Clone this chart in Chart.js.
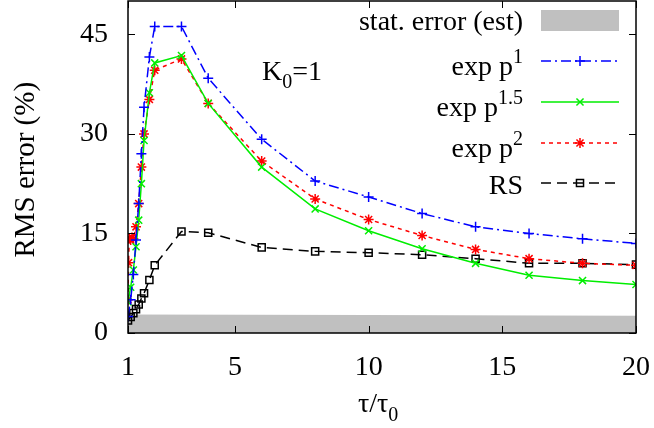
<!DOCTYPE html>
<html>
<head>
<meta charset="utf-8">
<script src="https://cdn.jsdelivr.net/npm/chart.js@4.4.1/dist/chart.umd.min.js"></script>
<style>
  html, body { margin: 0; padding: 0; background: #fff; }
  #wrap { width: 654px; height: 428px; position: relative; }
</style>
</head>
<body>
<div id="wrap"><canvas id="myChart"></canvas></div>
<script>
// tau / tau0 sample points
const tau = [1, 1.1, 1.2, 1.3, 1.4, 1.5, 1.6, 1.8, 2, 3, 4, 6, 8, 10, 12, 14, 16, 18, 20]
const expP1 = [2.5, 5.0, 8.8, 14.0, 19.5, 27.0, 34.0, 41.6, 46.2, 46.2, 38.4, 29.2, 22.9, 20.5, 18.0, 16.0, 15.0, 14.2, 13.5]
const expP15 = [4.7, 6.9, 9.5, 13.0, 17.0, 22.5, 29.0, 36.2, 40.7, 41.8, 34.6, 25.0, 18.7, 15.4, 12.7, 10.5, 8.7, 7.9, 7.3]
const rs = [1.9, 2.4, 3.0, 3.6, 4.3, 5.2, 6.0, 8.0, 10.2, 15.3, 15.1, 12.9, 12.3, 12.1, 11.8, 11.2, 10.5, 10.5, 10.3]
// exp p^2 has a few extra points right at tau0
const tauP2 = [1, 1.02, 1.05, 1.1, 1.15, 1.2, 1.3, 1.4, 1.5, 1.6, 1.8, 2, 3, 4, 6, 8, 10, 12, 14, 16, 18, 20]
const expP2 = [5.0, 10.6, 14.3, 14.0, 14.4, 14.2, 16.0, 19.5, 25.0, 30.0, 35.2, 39.6, 41.3, 34.6, 25.9, 20.2, 17.1, 14.7, 12.6, 11.2, 10.5, 10.2]
// estimated statistical error band
const statTau = [1, 10, 20]
const statErr = [2.8, 2.7, 2.6]

const xTicks = [1, 5, 10, 15, 20]
const yTicks = [0, 15, 30, 45]

const FONT = "'Liberation Serif', 'Times New Roman', serif"
Chart.defaults.font.family = FONT
Chart.defaults.font.size = 28
Chart.defaults.color = '#000'

function pts(xs, ys) {
    return xs.map((v, i) => ({ x: v, y: ys[i] }))
}

function series(label, xs, ys, color, dash, style, radius, order) {
    return {
        label: label,
        data: pts(xs, ys),
        showLine: true,
        borderColor: color,
        borderWidth: 1.5,
        borderDash: dash,
        pointStyle: style,
        pointRadius: radius,
        pointBorderColor: color,
        pointBackgroundColor: 'rgba(0,0,0,0)',
        pointBorderWidth: 1.5,
        fill: false,
        order: order
    }
}

// same markers for the key
function marker(ctx, style, x, y, r, color) {
    ctx.save()
    ctx.strokeStyle = color
    ctx.lineWidth = 1.5
    ctx.setLineDash([])
    ctx.beginPath()
    if (style === 'cross' || style === 'star') {
        ctx.moveTo(x - r, y); ctx.lineTo(x + r, y)
        ctx.moveTo(x, y - r); ctx.lineTo(x, y + r)
    }
    if (style === 'crossRot' || style === 'star') {
        const d = r * Math.SQRT1_2
        ctx.moveTo(x - d, y - d); ctx.lineTo(x + d, y + d)
        ctx.moveTo(x - d, y + d); ctx.lineTo(x + d, y - d)
    }
    if (style === 'rect') {
        const s = r * Math.SQRT1_2
        ctx.rect(x - s, y - s, 2 * s, 2 * s)
    }
    ctx.stroke()
    ctx.restore()
}

function supText(ctx, base, sup, right, y, rise) {
    ctx.font = '28px ' + FONT
    const w1 = ctx.measureText(base).width
    ctx.font = '20px ' + FONT
    const w2 = ctx.measureText(sup).width
    ctx.font = '28px ' + FONT
    ctx.textAlign = 'left'
    ctx.fillText(base, right - w2 - w1, y)
    ctx.font = '20px ' + FONT
    ctx.fillText(sup, right - w2, y - rise)
}

const frame = {
    id: 'frame',
    afterDraw(chart) {
        const { ctx, chartArea: a, scales: { x, y } } = chart
        const top = 1   // gnuplot border sits at the very top
        ctx.save()
        ctx.strokeStyle = '#000'
        ctx.fillStyle = '#000'
        ctx.lineWidth = 1
        ctx.beginPath()
        xTicks.forEach(v => {
            const px = Math.round(x.getPixelForValue(v)) + 0.5
            ctx.moveTo(px, a.bottom); ctx.lineTo(px, a.bottom - 7)
            ctx.moveTo(px, top); ctx.lineTo(px, top + 7)
        })
        yTicks.forEach(v => {
            const py = Math.round(y.getPixelForValue(v)) + 0.5
            ctx.moveTo(a.left, py); ctx.lineTo(a.left + 7, py)
            ctx.moveTo(a.right, py); ctx.lineTo(a.right - 7, py)
        })
        ctx.stroke()
        ctx.lineWidth = 1.5
        ctx.strokeRect(a.left, top, a.right - a.left, a.bottom - top)

        // x axis title tau/tau0
        ctx.textBaseline = 'alphabetic'
        ctx.textAlign = 'left'
        ctx.font = '28px ' + FONT
        ctx.fillText('τ/τ', 358, 412)
        const wt = ctx.measureText('τ/τ').width
        ctx.font = '20px ' + FONT
        ctx.fillText('0', 358 + wt, 421)

        // K0=1 label
        ctx.font = '28px ' + FONT
        ctx.fillText('K', 262, 80)
        const wk = ctx.measureText('K').width
        ctx.font = '20px ' + FONT
        ctx.fillText('0', 262 + wk, 88)
        const w0 = ctx.measureText('0').width
        ctx.font = '28px ' + FONT
        ctx.fillText('=1', 262 + wk + w0, 80)

        // key
        const right = 523, x0 = 541, x1 = 619, xm = 580
        ctx.textAlign = 'right'
        ctx.fillText('stat. error (est)', right, 30)
        ctx.fillStyle = '#c0c0c0'
        ctx.fillRect(x0, 10, x1 - x0, 21)
        ctx.fillStyle = '#000'

        const rows = chart.data.datasets.filter(d => d.key)
        rows.forEach(d => {
            const k = d.key
            if (k.sup) supText(ctx, k.base, k.sup, right, k.ty, 12)
            else { ctx.font = '28px ' + FONT; ctx.textAlign = 'right'; ctx.fillText(k.base, right, k.ty) }
            ctx.save()
            ctx.strokeStyle = d.borderColor
            ctx.lineWidth = 1.5
            ctx.setLineDash(d.borderDash)
            ctx.beginPath()
            ctx.moveTo(x0, k.ly); ctx.lineTo(x1, k.ly)
            ctx.stroke()
            ctx.restore()
            marker(ctx, d.pointStyle, xm, k.ly, d.pointRadius, d.borderColor)
        })
        ctx.restore()
    }
}

const s1 = series('exp p^1', tau, expP1, '#0000ff', [10, 4, 2, 4], 'cross', 5, 1)
s1.key = { base: 'exp p', sup: '1', ty: 75, ly: 61 }
const s15 = series('exp p^1.5', tau, expP15, '#00ee00', [], 'crossRot', 5, 2)
s15.key = { base: 'exp p', sup: '1.5', ty: 116, ly: 102 }
const s2 = series('exp p^2', tauP2, expP2, '#ff0000', [4, 4], 'star', 5, 3)
s2.key = { base: 'exp p', sup: '2', ty: 157, ly: 143 }
const sRS = series('RS', tau, rs, '#000000', [10, 6], 'rect', 5, 4)
sRS.key = { base: 'RS', sup: '', ty: 194, ly: 183 }

const band = {
    label: 'stat. error (est)',
    data: pts(statTau, statErr),
    showLine: true,
    fill: 'origin',
    backgroundColor: '#c0c0c0',
    borderWidth: 0,
    pointRadius: 0,
    order: 10
}

function noPad(s) {
    s.paddingLeft = 0; s.paddingRight = 0
    s.paddingTop = 0; s.paddingBottom = 0
}

new Chart('myChart', {
    type: 'scatter',
    data: { datasets: [s1, s15, s2, sRS, band] },
    options: {
        responsive: true,
        maintainAspectRatio: false,
        animation: false,
        events: [],
        layout: { padding: { left: 0, right: 18, top: 1, bottom: 0 } },
        plugins: {
            legend: { display: false },
            tooltip: { enabled: false }
        },
        scales: {
            x: {
                type: 'linear',
                min: 1,
                max: 20,
                grid: { display: false, drawTicks: false },
                border: { display: false },
                ticks: { padding: 18, maxRotation: 0, font: { size: 28 } },
                afterBuildTicks: s => { s.ticks = xTicks.map(v => ({ value: v })) },
                afterFit: s => { s.height = 95; noPad(s) }
            },
            y: {
                type: 'linear',
                min: 0,
                max: 49.2,
                grid: { display: false, drawTicks: false },
                border: { display: false },
                ticks: { padding: 20, font: { size: 28 } },
                title: { display: true, text: 'RMS error (%)', font: { size: 29 }, padding: { top: 9, bottom: 0 } },
                afterBuildTicks: s => { s.ticks = yTicks.map(v => ({ value: v })) },
                afterFit: s => { s.width = 128; noPad(s) }
            }
        }
    },
    plugins: [frame]
})
</script>
</body>
</html>
